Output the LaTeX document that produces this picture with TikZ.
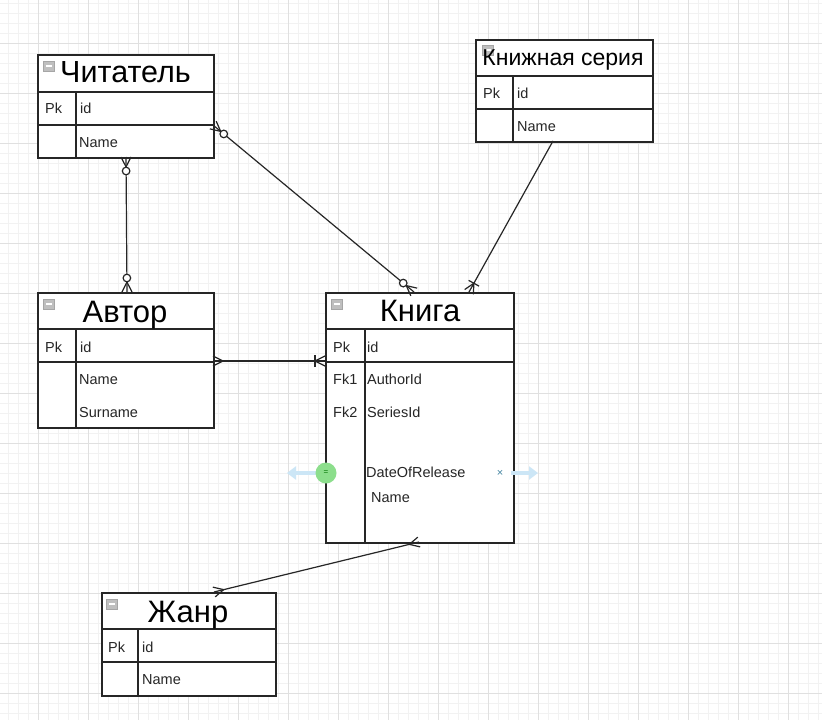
\documentclass[tikz,border=0pt]{standalone}
\usepackage{fontspec}
\setmainfont{Liberation Sans}
\usetikzlibrary{calc,arrows.meta}

\definecolor{gridlo}{RGB}{242,242,242}
\definecolor{gridhi}{RGB}{224,224,224}
\definecolor{hoverblue}{RGB}{204,230,246}
\definecolor{hovergreen}{RGB}{140,222,140}

% crow's foot ends, #1 = end on the table, #2 = other end
\newcommand{\ermany}[2]{%
  \draw[link] ($(#1)!5pt!90:(#2)$) -- ($(#1)!10pt!(#2)$) -- ($(#1)!5pt!-90:(#2)$);}
\newcommand{\eronemany}[2]{%
  \ermany{#1}{#2}
  \draw[link] ($(#1)!10pt!(#2)!6pt!90:(#2)$) -- ($(#1)!10pt!(#2)!6pt!-90:(#2)$);}
\newcommand{\erzeromany}[2]{%
  \ermany{#1}{#2}
  \draw[link,fill=white] ($(#1)!14pt!(#2)$) circle (3.8pt);}

\tikzset{
  tbl/.style={draw=black!85, line width=1.5pt, fill=white, inner sep=0pt, anchor=north west},
  sep/.style={black!85, line width=1.3pt},
  ttl/.style={font=\fontsize{31}{31}\selectfont, anchor=base, inner sep=0pt},
  fld/.style={font=\fontsize{14.5}{14.5}\selectfont, text=black!85, anchor=base west, inner sep=0pt},
  ico/.style={draw=gray!70, fill=gray!50, minimum width=11pt, minimum height=10pt,
    inner sep=0pt, path picture={\draw[white, line width=1.3pt]
      ([xshift=2.5pt]path picture bounding box.west) -- ([xshift=-2.5pt]path picture bounding box.east);}},
  link/.style={black!85, line width=1.2pt},
  hover/.style={hoverblue, line width=4pt, -{Triangle[width=13pt,length=9pt]}}
}

\begin{document}
\begin{tikzpicture}[x=1pt,y=-1pt]
\useasboundingbox (0,0) rectangle (822,720);
\fill[white] (0,0) rectangle (822,720);
% grid
\foreach \x in {8,18,...,818} \draw[gridlo] (\x,0) -- (\x,720);
\foreach \y in {3,13,...,713} \draw[gridlo] (0,\y) -- (822,\y);
\foreach \x in {38,88,...,788} \draw[gridhi] (\x,0) -- (\x,720);
\foreach \y in {43,93,...,693} \draw[gridhi] (0,\y) -- (822,\y);

% Читатель
\node[tbl, minimum width=176pt, minimum height=103pt] (reader) at (37,54) {};
\draw[sep] (37,92) -- (213,92) (37,125) -- (213,125) (76,92) -- (76,157);
\node[ico] (reader-i) at (49,66) {};
\node[ttl, font=\fontsize{30.5}{30.5}\selectfont] (reader-t) at (125.5,82) {Читатель};
\node[fld] (reader-pk) at (45,113) {Pk};
\node[fld] (reader-id) at (80,113) {id};
\node[fld] (reader-name) at (79,147) {Name};

% Книжная серия
\node[tbl, minimum width=177pt, minimum height=102pt] (series) at (475,39) {};
\draw[sep] (475,76) -- (652,76) (475,109) -- (652,109) (513,76) -- (513,141);
\node[ico] (series-i) at (488,50) {};
\node[ttl, font=\fontsize{23}{23}\selectfont] (series-t) at (563,65) {Книжная серия};
\node[fld] (series-pk) at (483,98) {Pk};
\node[fld] (series-id) at (517,98) {id};
\node[fld] (series-name) at (517,131) {Name};

% Автор
\node[tbl, minimum width=176pt, minimum height=135pt] (author) at (37,292) {};
\draw[sep] (37,329) -- (213,329) (37,362) -- (213,362) (76,329) -- (76,427);
\node[ico] (author-i) at (49,304) {};
\node[ttl] (author-t) at (125,322) {Автор};
\node[fld] (author-pk) at (45,352) {Pk};
\node[fld] (author-id) at (80,352) {id};
\node[fld] (author-name) at (79,384) {Name};
\node[fld] (author-sur) at (79,417) {Surname};

% Книга
\node[tbl, minimum width=188pt, minimum height=250pt] (book) at (325,292) {};
\draw[sep] (325,329) -- (513,329) (325,362) -- (513,362) (365,329) -- (365,542);
\node[ico] (book-i) at (337,304) {};
\node[ttl] (book-t) at (420,321) {Книга};
\node[fld] (book-pk) at (333,352) {Pk};
\node[fld] (book-id) at (367,352) {id};
\node[fld] (book-fk1) at (333,384) {Fk1};
\node[fld] (book-author) at (367,384) {AuthorId};
\node[fld] (book-fk2) at (333,417) {Fk2};
\node[fld] (book-series) at (367,417) {SeriesId};
\node[fld] (book-date) at (366,477) {DateOfRelease};
\node[fld] (book-name) at (371,502) {Name};

% Жанр
\node[tbl, minimum width=174pt, minimum height=103pt] (genre) at (101,592) {};
\draw[sep] (101,629) -- (275,629) (101,662) -- (275,662) (138,629) -- (138,695);
\node[ico] (genre-i) at (112,604) {};
\node[ttl] (genre-t) at (188,622) {Жанр};
\node[fld] (genre-pk) at (108,652) {Pk};
\node[fld] (genre-id) at (142,652) {id};
\node[fld] (genre-name) at (142,684) {Name};

% connector ends
\coordinate (reader-e) at (213,125);
\coordinate (reader-s) at (126,157);
\coordinate (series-s) at (553,141);
\coordinate (author-n) at (127,292);
\coordinate (author-e) at (213,361);
\coordinate (book-nw) at (414,292);
\coordinate (book-ne) at (469,292);
\coordinate (book-w) at (325,361);
\coordinate (book-s) at (419,542);
\coordinate (genre-n) at (214,592);

\draw[link] (reader-e) -- (book-nw);
\draw[link] (reader-s) -- (author-n);
\draw[link] (series-s) -- (book-ne);
\draw[link] (author-e) -- (book-w);
\draw[link] (book-s) -- (genre-n);
\erzeromany{reader-e}{book-nw}
\erzeromany{book-nw}{reader-e}
\erzeromany{reader-s}{author-n}
\erzeromany{author-n}{reader-s}
\eronemany{book-ne}{series-s}
\ermany{author-e}{book-w}
\eronemany{book-w}{author-e}
\ermany{book-s}{genre-n}
\ermany{genre-n}{book-s}

% selection handles
\draw[hover] (318,473) -- (287,473);
\draw[hover] (511,473) -- (538,473);
\fill[hovergreen] (326,473) circle (10.5pt);
\node[font=\fontsize{8}{8}\selectfont, text=green!45!black] (book-h) at (326,473) {=};
\node[font=\fontsize{11}{11}\selectfont, text=cyan!60!black] (book-x) at (500,473) {×};
\end{tikzpicture}
\end{document}
